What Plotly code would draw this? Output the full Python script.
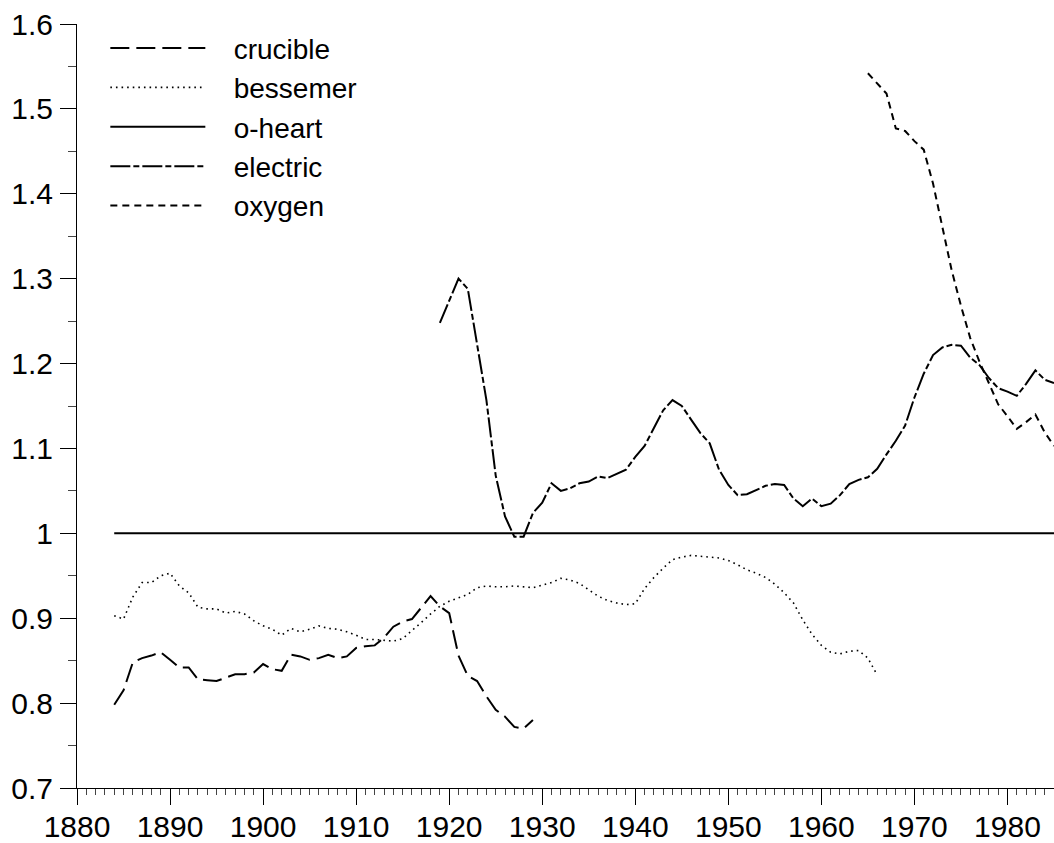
import plotly.graph_objects as go

# yearly ratios
crucible_years = list(range(1884, 1930))
crucible = [0.798, 0.815, 0.848, 0.853, 0.856, 0.860, 0.851, 0.842, 0.842, 0.828,
            0.827, 0.826, 0.830, 0.834, 0.834, 0.836, 0.846, 0.840, 0.838, 0.857,
            0.855, 0.851, 0.853, 0.857, 0.853, 0.855, 0.865, 0.867, 0.868, 0.877,
            0.890, 0.896, 0.899, 0.912, 0.926, 0.914, 0.906, 0.856, 0.832, 0.826,
            0.808, 0.792, 0.784, 0.772, 0.770, 0.780]

bessemer_years = list(range(1884, 1967))
bessemer = [0.903, 0.899, 0.925, 0.942, 0.942, 0.950, 0.953, 0.938, 0.930, 0.913,
            0.911, 0.911, 0.906, 0.908, 0.905, 0.897, 0.891, 0.887, 0.880, 0.888,
            0.884, 0.887, 0.891, 0.888, 0.887, 0.884, 0.880, 0.875, 0.875, 0.874,
            0.873, 0.876, 0.885, 0.895, 0.905, 0.914, 0.920, 0.924, 0.928, 0.936,
            0.938, 0.937, 0.937, 0.938, 0.937, 0.936, 0.939, 0.942, 0.947, 0.945,
            0.941, 0.934, 0.926, 0.921, 0.918, 0.916, 0.917, 0.935, 0.948, 0.959,
            0.969, 0.972, 0.974, 0.973, 0.972, 0.971, 0.968, 0.963, 0.957, 0.953,
            0.948, 0.940, 0.930, 0.918, 0.898, 0.881, 0.868, 0.860, 0.858, 0.861,
            0.862, 0.853, 0.833]

oheart_years = [1884, 1985]
oheart = [1.0, 1.0]

electric_years = list(range(1919, 1986))
electric = [1.248, 1.275, 1.300, 1.288, 1.225, 1.157, 1.068, 1.020, 0.996, 0.996,
            1.024, 1.036, 1.059, 1.050, 1.053, 1.059, 1.061, 1.067, 1.065, 1.070,
            1.075, 1.090, 1.103, 1.124, 1.145, 1.157, 1.150, 1.134, 1.118, 1.106,
            1.075, 1.057, 1.045, 1.046, 1.051, 1.056, 1.058, 1.057, 1.041, 1.032,
            1.041, 1.032, 1.035, 1.045, 1.058, 1.063, 1.066, 1.076, 1.093, 1.109,
            1.127, 1.160, 1.188, 1.210, 1.219, 1.222, 1.221, 1.207, 1.198, 1.183,
            1.171, 1.167, 1.162, 1.176, 1.192, 1.181, 1.177]

oxygen_years = list(range(1965, 1986))
oxygen = [1.542, 1.530, 1.518, 1.477, 1.474, 1.462, 1.452, 1.412, 1.360, 1.310,
          1.268, 1.230, 1.202, 1.176, 1.152, 1.138, 1.123, 1.131, 1.140, 1.119,
          1.103]

FONT = "Liberation Sans, Arial, sans-serif"
PAD = "\u00a0" * 3  # extra room between legend sample and label

series = [
    ("crucible", crucible_years, crucible, dict(width=2, dash="19px,7px")),
    ("bessemer", bessemer_years, bessemer, dict(width=1.6, dash="1.6px,4px")),
    ("o-heart", oheart_years, oheart, dict(width=2, dash="solid")),
    ("electric", electric_years, electric, dict(width=2, dash="20px,3px,6px,3px")),
    ("oxygen", oxygen_years, oxygen, dict(width=2, dash="7px,5px")),
]

fig = go.Figure()
for i, (name, xs, ys, line) in enumerate(series):
    fig.add_trace(go.Scatter(
        x=xs, y=ys, mode="lines", name=PAD + name,
        line=dict(color="black", **line),
        legendgroup=f"g{i}",
    ))

fig.update_layout(
    width=1054, height=843,
    margin=dict(l=77, r=0, t=24, b=55, autoexpand=False),
    paper_bgcolor="white", plot_bgcolor="white",
    font=dict(family=FONT, size=29, color="black"),
    showlegend=True,
    legend=dict(
        x=0.029, y=1.001, xanchor="left", yanchor="top",
        bgcolor="rgba(0,0,0,0)", itemwidth=95,
        tracegroupgap=0, font=dict(size=28),
        itemclick=False, itemdoubleclick=False,
    ),
)

fig.update_xaxes(
    range=[1880, 1985], showgrid=False, zeroline=False,
    showline=True, linecolor="black", linewidth=1,
    ticks="outside", ticklen=16, tickcolor="black", dtick=10, tick0=1880,
    tickfont=dict(size=30), tickangle=0, ticklabelstandoff=-4,
    minor=dict(dtick=1, ticks="outside", ticklen=6, tickcolor="#444"),
)
fig.update_yaxes(
    range=[0.7, 1.6], showgrid=False, zeroline=False,
    showline=True, linecolor="black", linewidth=1,
    ticks="outside", ticklen=16, tickcolor="black", dtick=0.1, tick0=0.7,
    tickfont=dict(size=30), ticklabelstandoff=1,
    minor=dict(dtick=0.05, ticks="outside", ticklen=8, tickcolor="#444"),
)

# drop the page's default body margin so the figure sits at the window corner
fig.write_html("out.html", config={"displayModeBar": False},
               post_script="document.body.style.margin='0';")
